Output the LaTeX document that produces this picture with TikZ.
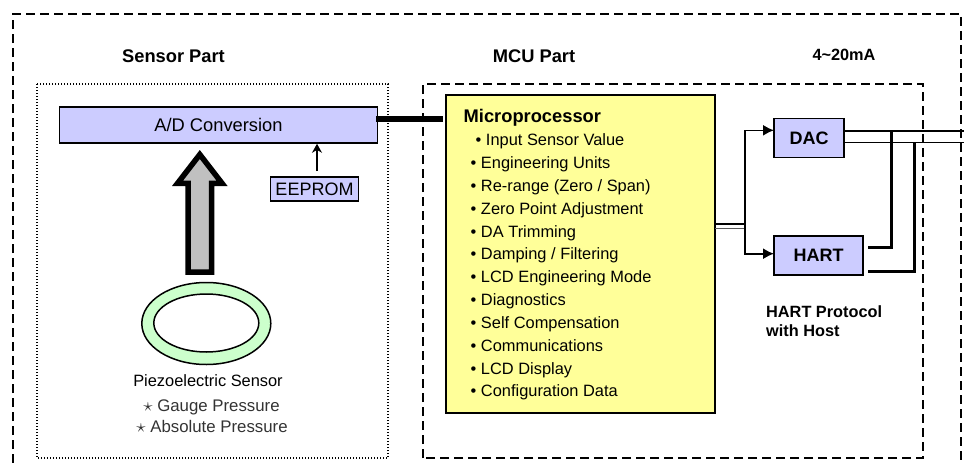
\documentclass[tikz,border=0pt]{standalone}
\usepackage{fontspec}
\setmainfont{Liberation Sans}
\usetikzlibrary{arrows.meta,shapes.geometric}
\definecolor{partblue}{HTML}{CCCCFF}
\definecolor{mcuyellow}{HTML}{FFFF99}
\definecolor{ringgreen}{HTML}{CCFFCC}
\definecolor{arrowgray}{HTML}{C0C0C0}
\newcommand{\notestar}{\raisebox{0.5pt}{\scalebox{1.1}{$\star$}}}
\tikzset{
  bluebox/.style={draw,fill=partblue,line width=1.6pt,inner sep=0pt,outer sep=0pt},
  headtext/.style={anchor=base,inner sep=0pt,font=\fontsize{18.3}{20}\selectfont\bfseries},
  smalltext/.style={anchor=base west,inner sep=0pt,font=\fontsize{16.4}{18}\selectfont},
  boldnote/.style={smalltext,font=\fontsize{16.3}{18}\selectfont\bfseries},
  notetext/.style={anchor=base,inner sep=0pt,font=\fontsize{16.4}{18}\selectfont},
  presstext/.style={anchor=base,inner sep=0pt,text=black!80,font=\fontsize{16.8}{18}\selectfont},
  longdash/.style={line width=1.7pt,dash pattern=on 9pt off 5pt},
  signal/.style={line width=1.6pt},
  feedline/.style={line width=2.6pt},
  ring/.style={draw,ellipse,line width=1.5pt,inner sep=0pt,outer sep=0pt}
}
\begin{document}
\begin{tikzpicture}[x=1pt,y=-1pt]
\useasboundingbox (0,0) rectangle (964,463);

% Drawing outer frame
\draw [longdash] (13,463) -- (13,14) -- (961,14) -- (961,463);

% Drawing part frames
\draw [line width=1.4pt,dash pattern=on 1.4pt off 1.6pt] (37,84) rectangle (388,458);
\draw [longdash] (423,458) -- (423,84) -- (923,84) -- (923,458) -- cycle;

% Part titles
\node [headtext] (sensortitle) at (173.5,62) {Sensor Part};
\node [headtext] (mcutitle) at (534,62) {MCU Part};
\node [boldnote,anchor=base] (currenttitle) at (844,60) {4\char"007E 20mA};

% A/D conversion and its EEPROM
\node [bluebox,minimum width=318pt,minimum height=36pt,font=\fontsize{18.3}{20}\selectfont] (adc) at (218.5,125) {A/D Conversion};
\node [bluebox,minimum width=88pt,minimum height=24pt,font=\fontsize{18}{20}\selectfont] (eeprom) at (314.5,189) {EEPROM};
\coordinate (eepromtop) at (317,171);
\coordinate (adcbottom) at (317,143.8);
\draw [line width=1.3pt,-{Stealth[length=9pt,width=10pt]}] (eepromtop) -- (adcbottom);

% Drawing pressure arrow
\draw [fill=arrowgray,line width=5.5pt,miter limit=10] (199.8,154.5) -- (222,183.25) -- (211.5,183.25) -- (211.5,272.2) -- (188.2,272.2) -- (188.2,183.25) -- (177.6,183.25) -- cycle;

% Drawing sensor ring
\node [ring,fill=ringgreen,minimum width=129pt,minimum height=82pt] (ringouter) at (206.3,323.5) {};
\node [ring,fill=white,minimum width=105pt,minimum height=58pt] (ringinner) at (206.3,323) {};

% Sensor notes
\node [notetext] (piezo) at (208,386.5) {Piezoelectric Sensor};
\node [presstext] (gauge) at (211.5,411.5) {\notestar\ Gauge Pressure};
\node [presstext] (absolute) at (212,432.5) {\notestar\ Absolute Pressure};

% Drawing microprocessor box
\node [draw,fill=mcuyellow,line width=1.6pt,minimum width=269pt,minimum height=318pt,inner sep=0pt,outer sep=0pt] (mcu) at (580.5,254) {};
\coordinate (adcout) at (376,119);
\coordinate (mcuin) at (443,119);
\draw [line width=5.8pt] (adcout) -- (mcuin);

% Microprocessor list
\node [headtext,anchor=base west] (mcuname) at (463.5,122) {Microprocessor};
\node [smalltext] (item1) at (475.5,145) {\textbullet\ Input Sensor Value};
\node [smalltext] (item2) at (470.5,168) {\textbullet\ Engineering Units};
\node [smalltext] (item3) at (470.5,191) {\textbullet\ Re-range (Zero / Span)};
\node [smalltext] (item4) at (470.5,214) {\textbullet\ Zero Point Adjustment};
\node [smalltext] (item5) at (470.5,237) {\textbullet\ DA Trimming};
\node [smalltext] (item6) at (470.5,259.5) {\textbullet\ Damping / Filtering};
\node [smalltext] (item7) at (470.5,282.5) {\textbullet\ LCD Engineering Mode};
\node [smalltext] (item8) at (470.5,305.5) {\textbullet\ Diagnostics};
\node [smalltext] (item9) at (470.5,328.5) {\textbullet\ Self Compensation};
\node [smalltext] (item10) at (470.5,351) {\textbullet\ Communications};
\node [smalltext] (item11) at (470.5,374) {\textbullet\ LCD Display};
\node [smalltext] (item12) at (470.5,396.5) {\textbullet\ Configuration Data};

% Drawing DAC and HART
\node [bluebox,minimum width=70pt,minimum height=39pt,font=\fontsize{18}{20}\selectfont\bfseries] (dac) at (809,138) {DAC};
\node [bluebox,minimum width=89pt,minimum height=39pt,font=\fontsize{18}{20}\selectfont\bfseries] (hart) at (818.5,255.5) {HART};
\node [boldnote] (hostnote1) at (766,317) {HART Protocol};
\node [boldnote] (hostnote2) at (766,336) {with Host};

% Drawing branch from microprocessor
\coordinate (branch) at (745,224);
\coordinate (branchlow) at (745,228.5);
\draw [line width=1.9pt] (mcu.east |- branch) -- (branch);
\draw [line width=1pt,black!65] (mcu.east |- branchlow) -- (branchlow);
\coordinate (dacin) at (dac.west |- 0,130.3);
\coordinate (hartin) at (hart.west |- 0,253.7);
\draw [signal,-{Latex[length=11pt,width=11pt]}] (branch) -- (branch |- dacin) -- (dacin);
\draw [signal,-{Latex[length=11pt,width=11pt]}] (branch) -- (branch |- hartin) -- (hartin);

% Drawing output lines
\coordinate (loopa) at (964,131);
\coordinate (loopb) at (964,142.3);
\coordinate (hartouta) at (868,247.5);
\coordinate (hartoutb) at (868,271.5);
\draw [signal] (dac.east |- loopa) -- (loopa);
\draw [signal] (dac.east |- loopb) -- (loopb);
\draw [feedline] (hartouta) -- (891.7,247.5) -- (891.7,131);
\draw [feedline] (hartoutb) -- (914.3,271.5) -- (914.3,142.3);
\end{tikzpicture}
\end{document}
